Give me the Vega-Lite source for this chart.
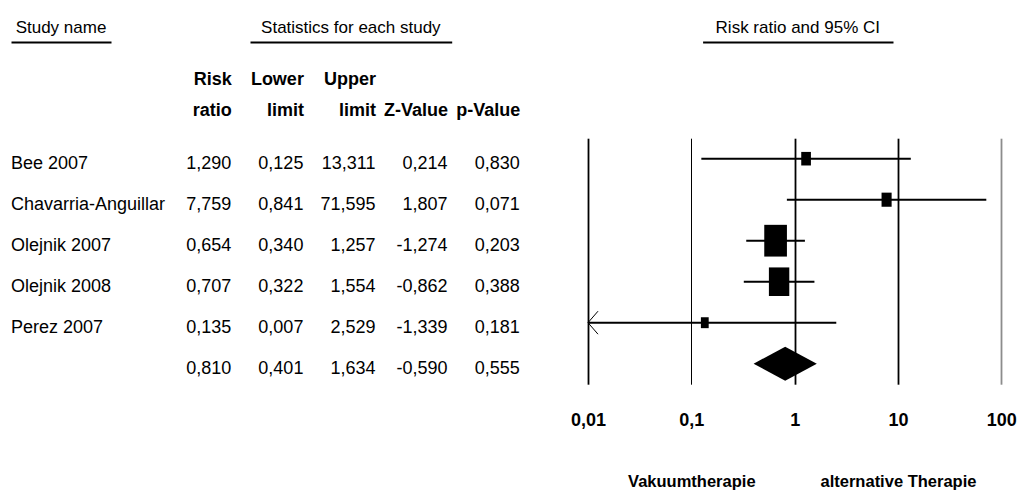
{
  "$schema": "https://vega.github.io/schema/vega-lite/v6.json",
  "background": "white",
  "padding": {"left": 11, "top": 14, "right": 0, "bottom": 0},
  "config": {
    "font": "Liberation Sans",
    "view": {"stroke": null},
    "axis": {"labelFont": "Liberation Sans", "labelColor": "black"},
    "text": {"font": "Liberation Sans", "color": "black"},
    "locale": {
      "number": {"decimal": ",", "thousands": ".", "grouping": [3], "currency": ["", " €"], "minus": "-"}
    }
  },
  "datasets": {
    "studies": [
      {"study": "Bee 2007", "kind": "study", "rr": 1.290, "lower": 0.125, "upper": 13.311, "z": 0.214, "p": 0.830, "weight": 4.1},
      {"study": "Chavarria-Anguillar", "kind": "study", "rr": 7.759, "lower": 0.841, "upper": 71.595, "z": 1.807, "p": 0.071, "weight": 4.5},
      {"study": "Olejnik 2007", "kind": "study", "rr": 0.654, "lower": 0.340, "upper": 1.257, "z": -1.274, "p": 0.203, "weight": 52.5},
      {"study": "Olejnik 2008", "kind": "study", "rr": 0.707, "lower": 0.322, "upper": 1.554, "z": -0.862, "p": 0.388, "weight": 36.3},
      {"study": "Perez 2007", "kind": "study", "rr": 0.135, "lower": 0.007, "upper": 2.529, "z": -1.339, "p": 0.181, "weight": 2.6},
      {"study": "Summary", "kind": "summary", "rr": 0.810, "lower": 0.401, "upper": 1.634, "z": -0.590, "p": 0.555}
    ]
  },
  "spacing": 28.2,
  "vconcat": [
    {
      "spacing": 250.6,
      "hconcat": [
        {
          "spacing": 139,
          "hconcat": [
            {
              "width": 100, "height": 28,
              "data": {"values": [{"section": "Study name"}]},
              "mark": {"type": "text", "fontSize": 17},
              "encoding": {
                "x": {"field": "section", "type": "nominal", "scale": {"type": "band", "paddingInner": 0, "paddingOuter": 0},
                      "axis": {"orient": "bottom", "title": null, "labels": false, "ticks": false, "grid": false, "domainColor": "black", "domainWidth": 2}},
                "text": {"field": "section"}
              }
            },
            {
              "width": 201.7, "height": 28,
              "data": {"values": [{"section": "Statistics for each study"}]},
              "mark": {"type": "text", "fontSize": 17},
              "encoding": {
                "x": {"field": "section", "type": "nominal", "scale": {"type": "band", "paddingInner": 0, "paddingOuter": 0},
                      "axis": {"orient": "bottom", "title": null, "labels": false, "ticks": false, "grid": false, "domainColor": "black", "domainWidth": 2}},
                "text": {"field": "section"}
              }
            }
          ]
        },
        {
          "width": 190.4, "height": 28,
          "data": {"values": [{"section": "Risk ratio and 95% CI"}]},
          "mark": {"type": "text", "fontSize": 17},
          "encoding": {
            "x": {"field": "section", "type": "nominal", "scale": {"type": "band", "paddingInner": 0, "paddingOuter": 0},
                  "axis": {"orient": "bottom", "title": null, "labels": false, "ticks": false, "grid": false, "domainColor": "black", "domainWidth": 2}},
            "text": {"field": "section"}
          }
        }
      ]
    },
    {
      "spacing": 14.5,
      "data": {"name": "studies"},
      "hconcat": [
        {
          "width": 160, "height": 246,
          "mark": {"type": "text", "align": "left", "baseline": "middle", "dy": 5, "fontSize": 18},
          "encoding": {
            "y": {"field": "study", "type": "nominal", "sort": null, "scale": {"type": "point", "padding": 0.5}, "axis": null},
            "x": {"datum": "Study name", "type": "nominal", "bandPosition": 0,
                  "scale": {"type": "band", "paddingInner": 0, "paddingOuter": 0}, "axis": null},
            "text": {"condition": {"test": "datum.kind === 'summary'", "value": ""}, "field": "study"}
          }
        },
        {
          "width": 360, "height": 246,
          "transform": [{"fold": ["rr", "lower", "upper", "z", "p"], "as": ["column", "value"]}],
          "mark": {"type": "text", "align": "right", "baseline": "middle", "dy": 5, "fontSize": 18},
          "encoding": {
            "y": {"field": "study", "type": "nominal", "sort": null, "scale": {"type": "point", "padding": 0.5}, "axis": null},
            "x": {
              "field": "column", "type": "nominal", "sort": ["rr", "lower", "upper", "z", "p"],
              "scale": {"type": "point", "padding": 0.4965},
              "axis": {"orient": "top", "title": null, "domain": false, "ticks": false, "grid": false,
                       "labelAngle": 0, "labelAlign": "right", "labelBaseline": "bottom",
                       "labelFontWeight": "bold", "labelFontSize": 18, "labelLineHeight": 31.6, "labelPadding": 49.8,
                       "labelExpr": "datum.value === 'rr' ? ['Risk', 'ratio'] : datum.value === 'lower' ? ['Lower', 'limit'] : datum.value === 'upper' ? ['Upper', 'limit'] : datum.value === 'z' ? ['', 'Z-Value'] : ['', 'p-Value']"}
            },
            "text": {"field": "value", "type": "quantitative", "format": ".3f"}
          }
        },
        {
          "width": 413.3, "height": 246,
          "encoding": {
            "y": {"field": "study", "type": "nominal", "sort": null, "scale": {"type": "point", "padding": 0.5}, "axis": null}
          },
          "layer": [
            {
              "transform": [{"filter": "datum.kind === 'study'"}],
              "mark": {"type": "rule", "strokeWidth": 2, "color": "black"},
              "encoding": {
                "x": {
                  "field": "lower", "type": "quantitative",
                  "scale": {"type": "log", "domain": [0.01, 100], "clamp": true, "nice": false},
                  "axis": {
                    "orient": "bottom", "title": null, "values": [0.01, 0.1, 1, 10, 100], "format": "~g",
                    "domain": false, "ticks": false, "grid": true,
                    "gridColor": {"condition": {"test": "datum.value == 100", "value": "#8c8c8c"}, "value": "black"},
                    "gridWidth": {"condition": {"test": "datum.value == 0.1", "value": 1}, "value": 1.8},
                    "gridOpacity": 1,
                    "labelFontWeight": "bold", "labelFontSize": 18, "labelBaseline": "top", "labelPadding": 27.5,
                    "labelFlush": false, "labelOverlap": false, "labelBound": false
                  }
                },
                "x2": {"field": "upper"}
              }
            },
            {
              "transform": [{"filter": "datum.lower < 0.01"}],
              "mark": {"type": "point", "shape": "M1,-1.15L0,0L1,1.15", "size": 400, "filled": false, "color": "black", "strokeWidth": 1, "opacity": 1},
              "encoding": {"x": {"field": "lower", "type": "quantitative", "axis": null}}
            },
            {
              "transform": [{"filter": "datum.kind === 'study'"}],
              "mark": {"type": "point", "shape": "M-0.845,-1.183L0.845,-1.183L0.845,1.183L-0.845,1.183Z", "filled": true, "color": "black", "opacity": 1},
              "encoding": {
                "x": {"field": "rr", "type": "quantitative", "axis": null},
                "size": {"field": "weight", "type": "quantitative", "scale": {"type": "sqrt", "zero": false, "range": [85, 720]}, "legend": null}
              }
            },
            {
              "transform": [{"filter": "datum.kind === 'summary'"}],
              "mark": {"type": "point", "shape": "M-1,0L0,-0.54L1,0L0,0.54Z", "size": 3994, "filled": true, "color": "black", "opacity": 1},
              "encoding": {
                "x": {
                  "field": "rr", "type": "quantitative",
                  "axis": {
                    "orient": "bottom", "title": null, "values": [0.1, 10],
                    "labelExpr": "datum.value < 1 ? 'Vakuumtherapie' : 'alternative Therapie'",
                    "domain": false, "ticks": false, "grid": false,
                    "labelFontWeight": "bold", "labelFontSize": 16.5,
                    "labelBaseline": "top", "labelPadding": 89.1, "offset": 0,
                    "labelFlush": false, "labelOverlap": false, "labelBound": false
                  }
                }
              }
            }
          ],
          "resolve": {"axis": {"x": "independent"}}
        }
      ]
    }
  ]
}
